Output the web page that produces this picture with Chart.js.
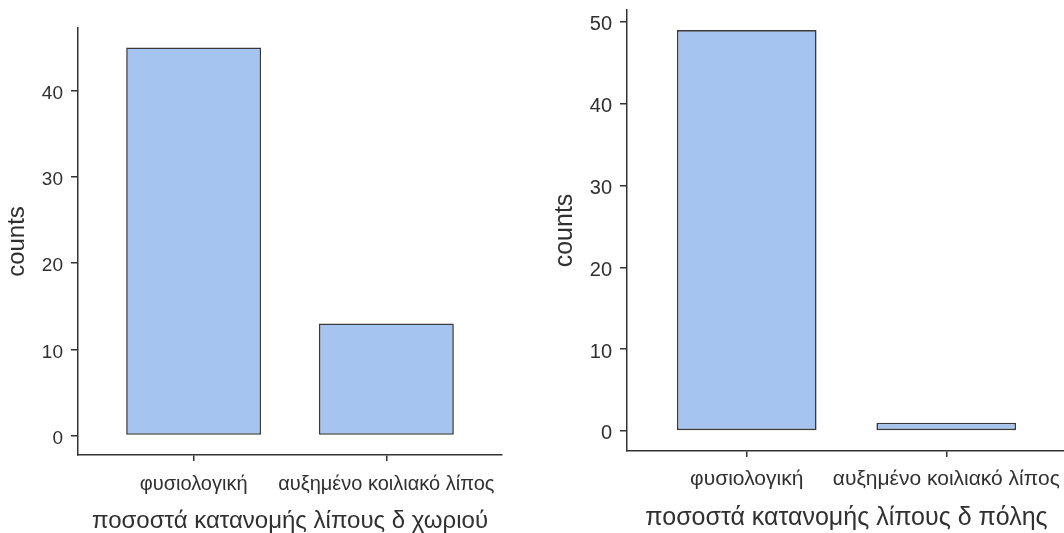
<!DOCTYPE html>
<html>
<head>
<meta charset="utf-8">
<script src="https://cdn.jsdelivr.net/npm/chart.js@4.4.1/dist/chart.umd.min.js"></script>
<style>
  html, body { margin: 0; padding: 0; background: #ffffff; overflow: hidden; width: 1064px; height: 533px; }
  canvas { position: absolute; top: 0; }
  #village { left: 0; }
  #city { left: 540px; }
</style>
</head>
<body>
<canvas id="village" width="540" height="533" style="width:540px;height:533px"></canvas>
<canvas id="city" width="530" height="533" style="width:530px;height:533px"></canvas>
<script>
// Fat-distribution categories shared by both panels
const categories = ['φυσιολογική', 'αυξημένο κοιλιακό λίπος'];

// Counts per category
const villageCounts = [45, 13];
const cityCounts = [49, 1];

// Value-axis tick labels
const villageTicks = [0, 10, 20, 30, 40];
const cityTicks = [0, 10, 20, 30, 40, 50];

// Axis titles
const villageTitle = 'ποσοστά κατανομής λίπους δ χωριού';
const cityTitle = 'ποσοστά κατανομής λίπους δ πόλης';
const countTitle = 'counts';

const FONT = '"Liberation Sans", Arial, sans-serif';
const INK = '#303030';
const LINE = '#333333';
const FILL = '#A6C4F0';
const EDGE = '#3a3a3a';

function zeroPadding(s) {
  s.paddingTop = 0; s.paddingBottom = 0; s.paddingLeft = 0; s.paddingRight = 0;
}

function drawPanel(id, counts, yTicks, xTitle, L) {
  const top = Math.max(...counts);
  const points = counts.map((v, i) => ({ x: i + 1, y: v }));
  return new Chart(document.getElementById(id), {
    type: 'bar',
    data: {
      datasets: [{
        data: points,
        backgroundColor: FILL,
        borderColor: EDGE,
        borderWidth: 1.6,
        borderSkipped: false,
        barPercentage: 0.7,
        categoryPercentage: 1
      }]
    },
    options: {
      responsive: false,
      animation: false,
      devicePixelRatio: 1,
      events: [],
      layout: { padding: { top: L.padTop, right: L.padRight, left: 0, bottom: 0 } },
      plugins: { legend: { display: false }, tooltip: { enabled: false } },
      scales: {
        x: {
          type: 'linear',
          min: 0.4,
          max: categories.length + 0.6,
          offset: false,
          afterBuildTicks: s => { s.ticks = categories.map((c, i) => ({ value: i + 1 })); },
          afterFit: s => { s.height = L.xHeight; zeroPadding(s); },
          ticks: {
            callback: v => categories[v - 1],
            font: { family: FONT, size: L.catFont },
            color: INK,
            padding: L.catPad,
            maxRotation: 0,
            minRotation: 0,
            autoSkip: false
          },
          grid: { offset: false, drawOnChartArea: false, drawTicks: true, tickLength: 6, color: LINE, lineWidth: 1.5 },
          border: { display: true, color: LINE, width: 1.5 },
          title: {
            display: true,
            text: xTitle,
            color: INK,
            font: { family: FONT, size: L.titleFont, lineHeight: 1.0 },
            padding: { top: 0, bottom: L.xTitlePad }
          }
        },
        y: {
          type: 'linear',
          min: -0.05 * top,
          max: 1.05 * top,
          afterBuildTicks: s => { s.ticks = yTicks.map(v => ({ value: v })); },
          afterFit: s => { s.width = L.yWidth; zeroPadding(s); },
          ticks: {
            font: { family: FONT, size: L.tickFont },
            color: INK,
            padding: 8,
            labelOffset: 3
          },
          grid: { drawOnChartArea: false, drawTicks: true, tickLength: 7, color: LINE, lineWidth: 1.5 },
          border: { display: true, color: LINE, width: 1.5 },
          title: {
            display: true,
            text: countTitle,
            color: INK,
            font: { family: FONT, size: L.titleFont, lineHeight: 1.2 },
            padding: { top: L.yTitlePad, bottom: 0 }
          }
        }
      }
    }
  });
}

drawPanel('village', villageCounts, villageTicks, villageTitle, {
  padTop: 28, padRight: 38, yWidth: 78, xHeight: 78,
  tickFont: 19, catFont: 20, titleFont: 24,
  catPad: 11, xTitlePad: 0, yTitlePad: 3
});

drawPanel('city', cityCounts, cityTicks, cityTitle, {
  padTop: 10, padRight: 4, yWidth: 87, xHeight: 82,
  tickFont: 20, catFont: 21, titleFont: 25,
  catPad: 10, xTitlePad: 2, yTitlePad: 10
});
</script>
</body>
</html>
